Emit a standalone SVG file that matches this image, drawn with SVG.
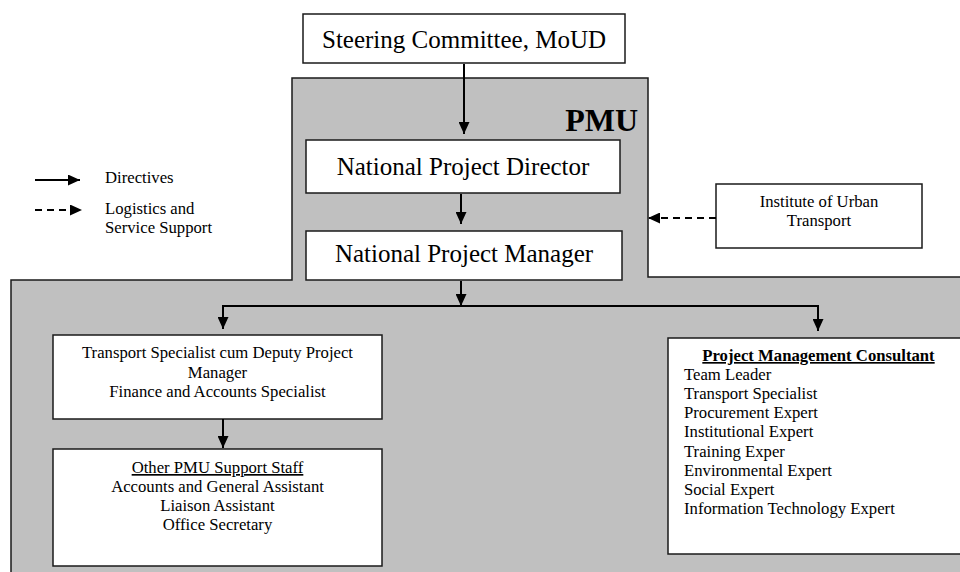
<svg xmlns="http://www.w3.org/2000/svg" width="960" height="572" viewBox="0 0 960 572">
<style>
  .box { fill: #ffffff; stroke: #1a1a1a; stroke-width: 1.5; }
  .t { font-family: "Liberation Serif", "Times New Roman", serif; fill: #000; }
  .big { font-size: 25px; }
  .sm { font-size: 16.7px; }
  .c { text-anchor: middle; }
  .conn { fill: none; stroke: #000; stroke-width: 2; }
  .dash { stroke-dasharray: 7 5; }
</style>
<defs>
  <marker id="ah" markerUnits="userSpaceOnUse" markerWidth="13" markerHeight="11" refX="12" refY="5.5" orient="auto" viewBox="0 0 13 11">
    <path d="M0,0 L12,5.5 L0,11 z" fill="#000"/>
  </marker>
</defs>

<!-- PMU shaded area -->
<g id="pmu">
  <path d="M292,78 H648 V277 H962 V580 H11 V280 H292 Z" fill="#c0c0c0" stroke="#1a1a1a" stroke-width="1.5"/>
  <text class="t" x="638" y="131" font-size="32" font-weight="bold" text-anchor="end">PMU</text>
</g>

<!-- Legend -->
<g id="legend">
  <line class="conn" x1="35" y1="180" x2="80" y2="180" marker-end="url(#ah)"/>
  <text class="t sm" x="105" y="183">Directives</text>
  <line class="conn dash" x1="35" y1="210" x2="82" y2="210" marker-end="url(#ah)"/>
  <text class="t sm" x="105" y="214">Logistics and</text>
  <text class="t sm" x="105" y="233">Service Support</text>
</g>

<g id="steering">
  <rect class="box" x="303" y="14" width="322" height="49"/>
  <text class="t big c" x="464" y="48">Steering Committee, MoUD</text>
</g>

<g id="npd">
  <rect class="box" x="306" y="140" width="314" height="53"/>
  <text class="t big c" x="463" y="175">National Project Director</text>
</g>

<g id="npm">
  <rect class="box" x="306" y="231" width="316" height="49"/>
  <text class="t big c" x="464" y="262">National Project Manager</text>
</g>

<g id="iut">
  <rect class="box" x="716" y="184" width="206" height="64"/>
  <text class="t sm c" x="819" y="207">Institute of Urban</text>
  <text class="t sm c" x="819" y="226">Transport</text>
</g>

<g id="specialists">
  <rect class="box" x="53" y="335" width="329" height="84"/>
  <text class="t sm c" x="217.5" y="358">Transport Specialist cum Deputy Project</text>
  <text class="t sm c" x="217.5" y="378">Manager</text>
  <text class="t sm c" x="217.5" y="397">Finance and Accounts Specialist</text>
</g>

<g id="support">
  <rect class="box" x="53" y="449" width="329" height="117"/>
  <text class="t sm c" x="217.5" y="473" text-decoration="underline">Other PMU Support Staff</text>
  <text class="t sm c" x="217.5" y="492">Accounts and General Assistant</text>
  <text class="t sm c" x="217.5" y="511">Liaison Assistant</text>
  <text class="t sm c" x="217.5" y="530">Office Secretary</text>
</g>

<g id="pmc">
  <rect class="box" x="668" y="338" width="300" height="216"/>
  <text class="t sm c" x="818.5" y="361" font-weight="bold" text-decoration="underline">Project Management Consultant</text>
  <text class="t sm" x="684" y="380">Team Leader</text>
  <text class="t sm" x="684" y="399">Transport Specialist</text>
  <text class="t sm" x="684" y="418">Procurement Expert</text>
  <text class="t sm" x="684" y="437">Institutional Expert</text>
  <text class="t sm" x="684" y="457">Training Exper</text>
  <text class="t sm" x="684" y="476">Environmental Expert</text>
  <text class="t sm" x="684" y="495">Social Expert</text>
  <text class="t sm" x="684" y="514">Information Technology Expert</text>
</g>

<g id="connectors">
  <line class="conn" x1="464" y1="64" x2="464" y2="134" marker-end="url(#ah)"/>
  <line class="conn" x1="461" y1="194" x2="461" y2="224" marker-end="url(#ah)"/>
  <line class="conn" x1="461" y1="281" x2="461" y2="306" marker-end="url(#ah)"/>
  <path class="conn" d="M223,306 H818"/>
  <line class="conn" x1="223" y1="305" x2="223" y2="329" marker-end="url(#ah)"/>
  <line class="conn" x1="818" y1="305" x2="818" y2="331" marker-end="url(#ah)"/>
  <line class="conn" x1="223" y1="419" x2="223" y2="448" marker-end="url(#ah)"/>
  <line class="conn dash" x1="716" y1="218" x2="648" y2="218" marker-end="url(#ah)"/>
</g>
</svg>
